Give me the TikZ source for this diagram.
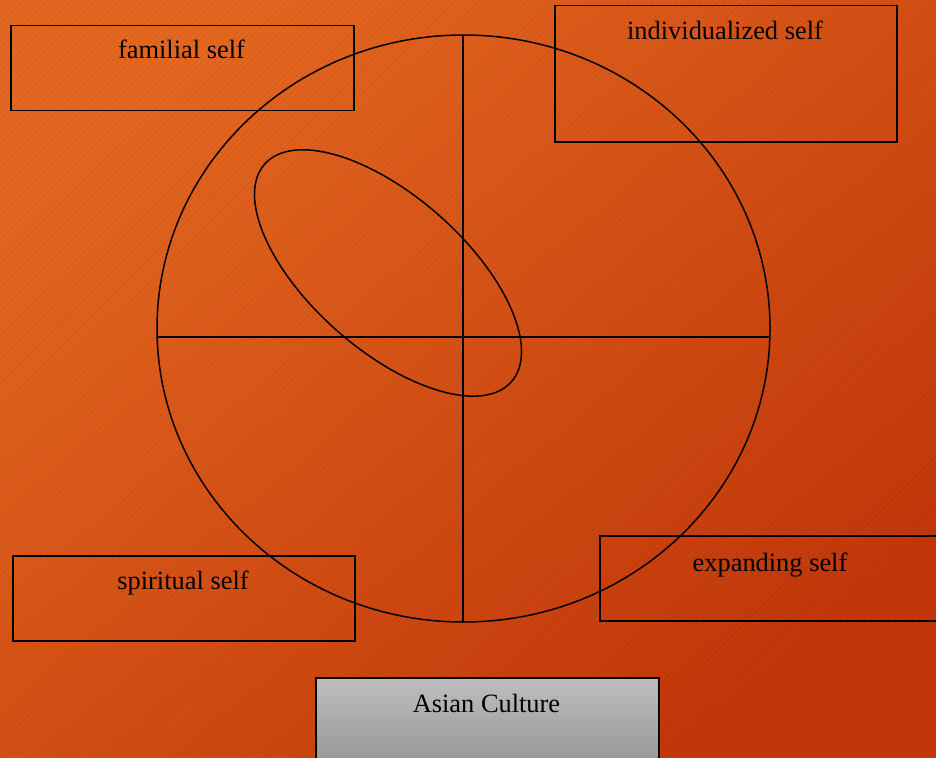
\documentclass[tikz,border=0pt]{standalone}
\usepackage{fontspec}
\setmainfont{Liberation Serif}
\begin{document}
\begin{tikzpicture}[x=1pt,y=-1pt,
  box/.style={draw=black, line width=1.5pt},
  lbl/.style={anchor=base, font=\fontsize{26.4}{30}\selectfont, text=black, inner sep=0pt},
  ln/.style={draw=black, line width=1.5pt}]
\useasboundingbox (0,0) rectangle (936,757);
% background
\fill[top color={rgb,255:red,229;green,104;blue,32}, bottom color={rgb,255:red,196;green,56;blue,10}, shading angle=40] (0,0) rectangle (936,757);
\begin{scope}
\clip (0,0) rectangle (936,757);
\foreach \i in {0,6,...,1700} {
  \draw[black, opacity=0.035, line width=2pt] (\i,0) -- (\i-757,757);
}
\end{scope}
% boxes
\node[box, minimum width=343pt, minimum height=85pt, anchor=north west, inner sep=0pt] (fam) at (10,25) {};
\node[box, minimum width=342pt, minimum height=136pt, anchor=north west, inner sep=0pt] (ind) at (554,5) {};
\node[box, minimum width=342pt, minimum height=85pt, anchor=north west, inner sep=0pt] (spi) at (12,555) {};
\node[box, minimum width=342pt, minimum height=85pt, anchor=north west, inner sep=0pt] (exp) at (599,535) {};
\node[box, minimum width=343pt, minimum height=100pt, anchor=north west, inner sep=0pt,
  top color={rgb,255:red,190;green,190;blue,190}, bottom color={rgb,255:red,145;green,145;blue,145}] (asia) at (315,677) {};
% big ellipse and axes
\coordinate (c) at (463.5,328.5);
\draw[ln] (c) ellipse [x radius=306.5, y radius=293.5];
\coordinate (hl) at (157,337);
\coordinate (hr) at (770,337);
\coordinate (vt) at (463,35);
\coordinate (vb) at (463,622);
\draw[ln] (hl) -- (hr);
\draw[ln] (vt) -- (vb);
% inner tilted ellipse
\coordinate (ec) at (388,273);
\draw[ln, rotate around={-41.4:(ec)}] (ec) ellipse [x radius=164.5, y radius=77];
% labels
\node[lbl] (tfam) at (181.5,59) {familial self};
\node[lbl] (tind) at (725,40) {individualized self};
\node[lbl] (tspi) at (183,589) {spiritual self};
\node[lbl] (texp) at (770,571) {expanding self};
\node[lbl] (tasia) at (486.5,712) {Asian Culture};
\end{tikzpicture}
\end{document}
